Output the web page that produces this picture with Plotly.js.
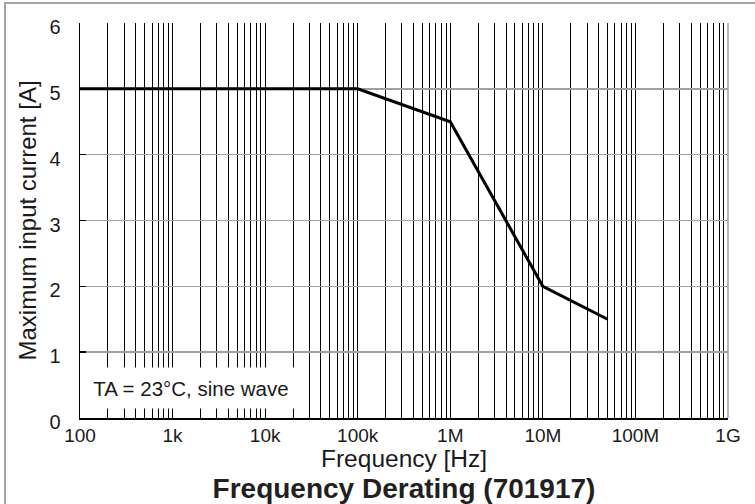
<!DOCTYPE html>
<html>
<head>
<meta charset="utf-8">
<script src="https://cdn.plot.ly/plotly-3.0.1.min.js"></script>
<style>
  html, body { margin: 0; padding: 0; background: #fff; }
  #wrap { position: relative; width: 755px; height: 504px; overflow: hidden; }
  #chart { width: 755px; height: 504px; }
  #frame { position: absolute; left: 4px; top: 2px; width: 800px; height: 600px;
           border-left: 2px solid #a6a6a6; border-top: 2px solid #a6a6a6; pointer-events: none; }
</style>
</head>
<body>
<div id="wrap">
  <div id="chart"></div>
  <div id="frame"></div>
</div>
<script>
// Data
const frequencyHz = [100, 100000, 1000000, 10000000, 50000000];
const maxCurrentA = [5, 5, 4.5, 2, 1.5];

// Axis tick labels (decades)
const decadeValues = [100, 1000, 10000, 100000, 1000000, 10000000, 100000000, 1000000000];
const decadeLabels = ['100', '1k', '10k', '100k', '1M', '10M', '100M', '1G'];
const yTickValues = [0, 1, 2, 3, 4, 5, 6];
const xTitle = 'Frequency [Hz]';
const yTitle = 'Maximum input current [A]';
const noteText = 'TA = 23°C, sine wave';

// Build log grid tick positions (major decades + 2..9 minors)
const xTickVals = [];
const xTickText = [];
decadeValues.forEach((d, i) => {
  xTickVals.push(d);
  xTickText.push(decadeLabels[i]);
  if (i < decadeValues.length - 1) {
    for (let m = 2; m <= 9; m++) {
      xTickVals.push(d * m);
      xTickText.push('');
    }
  }
});

const trace = {
  x: frequencyHz,
  y: maxCurrentA,
  type: 'scatter',
  mode: 'lines',
  line: { color: '#000000', width: 3 },
  hoverinfo: 'skip'
};

const layout = {
  width: 755,
  height: 504,
  margin: { l: 80, r: 27, t: 23, b: 86 },
  paper_bgcolor: '#ffffff',
  plot_bgcolor: '#ffffff',
  showlegend: false,
  font: { family: 'Liberation Sans, Arial, sans-serif', color: '#1a1a1a' },
  title: {
    text: '<b>Frequency Derating (701917)</b>',
    font: { size: 28, color: '#231f20', family: 'Liberation Sans, Arial, sans-serif' },
    x: 0.5, xanchor: 'center', xref: 'paper',
    y: 0.031, yref: 'container', yanchor: 'middle'
  },
  xaxis: {
    type: 'log',
    range: [2, 9],
    tickmode: 'array',
    tickvals: xTickVals,
    ticktext: xTickText,
    ticks: '',
    showgrid: true,
    gridcolor: '#000000',
    gridwidth: 1,
    showline: true,
    linecolor: '#000000',
    linewidth: 1.5,
    zeroline: false,
    tickfont: { size: 19, color: '#1a1a1a' },
    automargin: false,
    fixedrange: true
  },
  yaxis: {
    range: [0, 6],
    tickmode: 'array',
    tickvals: yTickValues,
    ticks: 'inside',
    ticklen: 6,
    tickwidth: 1.5,
    tickcolor: '#000000',
    showgrid: true,
    gridcolor: '#a0a0a0',
    gridwidth: 1.5,
    showline: true,
    linecolor: '#000000',
    linewidth: 1.5,
    zeroline: false,
    tickfont: { size: 20, color: '#1a1a1a' },
    ticklabelstandoff: 14,
    ticklabelshift: 4,
    title: { text: yTitle, font: { size: 24, color: '#1a1a1a' }, standoff: 6 },
    automargin: false,
    fixedrange: true
  },
  shapes: [
    { type: 'line', xref: 'paper', yref: 'paper', x0: 1, x1: 1, y0: 0, y1: 1,
      line: { color: '#a0a0a0', width: 1.5 }, layer: 'above' }
  ],
  annotations: [
    {
      text: noteText,
      xref: 'paper', yref: 'paper',
      x: 0.002, y: 0.075,
      xanchor: 'left', yanchor: 'middle',
      showarrow: false,
      bgcolor: '#ffffff',
      width: 216,
      height: 38,
      align: 'center',
      font: { size: 20.5, color: '#1a1a1a' }
    },
    {
      text: xTitle,
      xref: 'paper', yref: 'paper',
      x: 0.5, y: -0.103,
      xanchor: 'center', yanchor: 'middle',
      showarrow: false,
      font: { size: 24.5, color: '#1a1a1a' }
    }
  ]
};

Plotly.newPlot('chart', [trace], layout, { staticPlot: true, displayModeBar: false });
</script>
</body>
</html>
